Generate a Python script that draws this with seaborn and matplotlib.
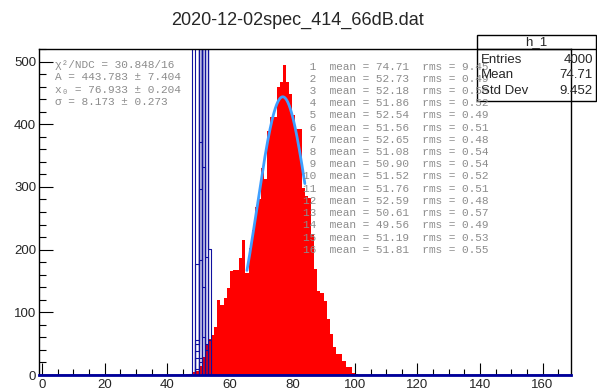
import numpy as np
import pandas as pd
import matplotlib
matplotlib.use("Agg")
import matplotlib.pyplot as plt
import seaborn as sns
from matplotlib.patches import Rectangle
from matplotlib.lines import Line2D
from matplotlib.ticker import MultipleLocator

sns.set_style("ticks")
plt.rcParams["font.family"] = ["Liberation Sans", "DejaVu Sans"]

TITLE = "2020-12-02spec_414_66dB.dat"
X_MIN, X_MAX = -1, 169
Y_MAX = 520

# main histogram h_1 (1-unit bins), left edge of first listed bin = 45
red_first_edge = 45
red_counts = [0, 2, 2, 4, 7, 14, 28, 49, 57, 64,
              76, 120, 112, 123, 139, 166, 168, 168, 187, 216,
              163, 202, 232, 268, 280, 330, 313, 390, 411, 411,
              459, 467, 495, 467, 449, 414, 393, 393, 299, 286,
              283, 225, 169, 134, 131, 118, 89, 65, 44, 33,
              33, 22, 13, 13, 3, 1]

# narrow histograms 2..16 : (first left edge, counts)
blue_hists = [
    (51, [700, 1300, 201]),
    (50, [20, 1000, 189]),
    (50, [184, 1000, 40]),
    (50, [27, 620, 700]),
    (49, [27, 640, 760]),
    (51, [560, 900, 56]),
    (49, [50, 1100, 140]),
    (49, [177, 1100, 60]),
    (49, [38, 650, 700]),
    (49, [10, 372, 1100]),
    (51, [560, 800]),
    (49, [560, 880]),
    (47, [2, 640, 800]),
    (49, [56, 1000, 332]),
    (50, [297, 1000, 50]),
]

# legend list
leg_ids = list(range(1, 17))
leg_means = ["74.71", "52.73", "52.18", "51.86", "52.54", "51.56", "52.65", "51.08",
             "50.90", "51.52", "51.76", "52.59", "50.61", "49.56", "51.19", "51.81"]
leg_rms = ["9.45", "0.49", "0.50", "0.52", "0.49", "0.51", "0.48", "0.54",
           "0.54", "0.52", "0.51", "0.48", "0.57", "0.49", "0.53", "0.55"]

# gaussian fit
fit_A, fit_mu, fit_sigma = 443.783, 76.933, 8.173
fit_lo, fit_hi = 65.5, 84.0
fit_lines = ["\u03c7\u00b2/NDC = 30.848/16",
             "A = 443.783 \u00b1 7.404",
             "x\u2080 = 76.933 \u00b1 0.204",
             "\u03c3 = 8.173 \u00b1 0.273"]

stats_name = "h_1"
stats_rows = [("Entries", "4000"), ("Mean", "74.71"), ("Std Dev", "9.452")]

W, H = 597, 390
fig = plt.figure(figsize=(W / 100, H / 100), dpi=100)
L, R, T, B = 39, 570.7, 49, 375
ax = fig.add_axes([L / W, 1 - B / H, (R - L) / W, (B - T) / H])

edges = list(range(X_MIN, X_MAX + 1))
red_df = pd.DataFrame({"x": red_first_edge + np.arange(len(red_counts)) + 0.5,
                       "w": red_counts})
sns.histplot(data=red_df, x="x", weights="w", bins=edges, element="step",
             fill=True, color="#ff0000", alpha=1, linewidth=0, ax=ax)

blue_col = "#10109e"
for first, cnts in blue_hists:
    df = pd.DataFrame({"x": first + np.arange(len(cnts)) + 0.5, "w": cnts})
    sns.histplot(data=df, x="x", weights="w", bins=edges, element="step",
                 fill=False, color=blue_col, linewidth=0.8, ax=ax)

xs = np.linspace(fit_lo, fit_hi, 200)
ax.plot(xs, fit_A * np.exp(-0.5 * ((xs - fit_mu) / fit_sigma) ** 2),
        color="#3f9fff", linewidth=2)

ax.set_xlim(X_MIN, X_MAX)
ax.set_ylim(0, Y_MAX)
ax.set_xlabel("")
ax.set_ylabel("")
ax.xaxis.set_major_locator(MultipleLocator(20))
ax.xaxis.set_minor_locator(MultipleLocator(5))
ax.yaxis.set_major_locator(MultipleLocator(100))
ax.yaxis.set_minor_locator(MultipleLocator(20))
ax.tick_params(axis="both", which="both", direction="in", labelsize=9.5,
               top=False, right=False, color="black", width=0.8)
ax.tick_params(axis="x", which="major", length=8.5, pad=3)
ax.tick_params(axis="x", which="minor", length=4)
ax.tick_params(axis="y", which="major", length=10, pad=2)
ax.tick_params(axis="y", which="minor", length=5)
for s in ax.spines.values():
    s.set_linewidth(1.0)
    s.set_color("black")
ax.spines["bottom"].set_color("#00009a")
ax.spines["bottom"].set_linewidth(2)

def fx(x):
    return x / W

def fy(y):
    return 1 - y / H

fig.text(fx(298), fy(20), TITLE, ha="center", va="center", fontsize=13)

mono = ["Liberation Mono", "DejaVu Sans Mono"]
grey = "#8c8c8c"
for i, line in enumerate(fit_lines):
    fig.text(fx(55), fy(65 + i * 12.4), line, ha="left", va="center",
             fontsize=8, family=mono, color=grey)

for i in range(len(leg_ids)):
    s = f"{leg_ids[i]:>2}  mean = {leg_means[i]}  rms = {leg_rms[i]}"
    fig.text(fx(303), fy(66.5 + i * 12.22), s, ha="left", va="center",
             fontsize=8, family=mono, color=grey)

bx0, bx1, by0, by1 = 477, 596, 35, 101
fig.add_artist(Rectangle((fx(bx0), fy(by1)), (bx1 - bx0) / W, (by1 - by0) / H,
                         transform=fig.transFigure, fill=False,
                         edgecolor="black", linewidth=1))
fig.add_artist(Line2D([fx(bx0), fx(bx1)], [fy(49), fy(49)],
                      transform=fig.transFigure, color="black", linewidth=1))
fig.text(fx((bx0 + bx1) / 2), fy(42), stats_name, ha="center", va="center", fontsize=9.5)
for i, (k, v) in enumerate(stats_rows):
    yy = fy(60 + i * 15.5)
    fig.text(fx(481), yy, k, ha="left", va="center", fontsize=9.5)
    fig.text(fx(593), yy, v, ha="right", va="center", fontsize=9.5)

fig.savefig("out.png", dpi=100)
